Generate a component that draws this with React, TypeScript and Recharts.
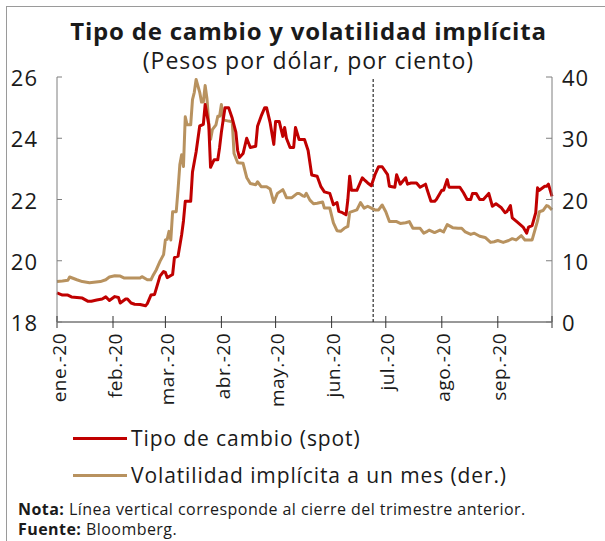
import { LineChart, Line, XAxis, YAxis, ReferenceLine } from "recharts";

// días desde el 1 de enero de 2020
const spotDays = [
  0, 3, 6, 8, 11, 14, 17, 19, 22, 25,
  27, 29, 32, 34, 35, 38, 39, 41, 43, 46,
  49, 50, 52, 54, 55, 57, 59, 60, 61, 64,
  65, 67, 69, 70, 71, 74, 75, 77, 79, 81,
  82, 84, 85, 87, 89, 90, 91, 93, 95, 97,
  99, 100, 101, 103, 105, 107, 110, 111, 113, 115,
  116, 118, 120, 121, 123, 125, 126, 127, 129, 131,
  132, 134, 137, 139, 141, 144, 146, 148, 151, 153,
  155, 156, 158, 160, 161, 162, 163, 166, 169, 170,
  172, 174, 176, 178, 180, 183, 184, 187, 188, 190,
  193, 194, 196, 199, 201, 204, 205, 207, 209, 210,
  213, 214, 216, 217, 220, 223, 225, 227, 229, 230,
  232, 234, 236, 239, 241, 243, 246, 248, 249, 251,
  252, 255, 258, 260, 261, 263, 265, 266, 267, 270,
  271, 272, 274,
];
const spotValues = [
  18.95, 18.88, 18.88, 18.82, 18.8, 18.78, 18.68, 18.68, 18.72, 18.75,
  18.82, 18.7, 18.83, 18.8, 18.62, 18.75, 18.75, 18.62, 18.58, 18.57,
  18.53, 18.6, 18.88, 18.9, 19.1, 19.5, 19.65, 19.62, 19.45, 19.55,
  20.1, 20.15, 20.85, 21.3, 21.94, 21.94, 22.9, 23.55, 24.4, 24.45,
  25.1, 24.45, 23.05, 23.3, 23.3, 23.7, 24.2, 25.0, 25.0, 24.65,
  24.2, 23.6, 23.37, 23.5, 24.0, 23.7, 23.74, 24.39, 24.72, 25.0,
  25.0, 24.5, 23.8, 24.55, 24.55, 24.06, 24.35, 24.0, 23.7, 23.7,
  24.35, 23.96, 23.96, 23.6, 22.8, 22.76, 22.43, 22.25, 22.2, 21.83,
  21.9, 21.61, 21.57, 21.5, 22.0, 22.76, 22.3, 22.3, 22.71, 22.65,
  22.54, 22.45, 22.81, 23.07, 23.07, 22.81, 22.43, 22.4, 22.81, 22.5,
  22.71, 22.5, 22.54, 22.54, 22.4, 22.5, 22.3, 21.94, 21.94, 22.0,
  22.3, 22.3, 22.65, 22.4, 22.4, 22.4, 22.22, 22.0, 22.0, 22.2,
  22.2, 22.0, 22.0, 22.2, 21.78, 21.86, 21.73, 21.57, 21.6, 21.8,
  21.4, 21.25, 21.1, 20.9, 21.1, 21.15, 21.57, 22.38, 22.3, 22.43,
  22.43, 22.5, 22.1,
];

const volDays = [
  0, 3, 6, 7, 11, 14, 18, 24, 27, 29,
  32, 35, 37, 40, 43, 46, 47, 50, 52, 53,
  55, 57, 59, 60, 61, 62, 63, 64, 66, 67,
  68, 69, 70, 71, 72, 74, 75, 76, 77, 79,
  80, 81, 82, 83, 84, 85, 86, 88, 89, 90,
  91, 92, 95, 97, 98, 100, 103, 105, 107, 110,
  111, 113, 116, 118, 120, 122, 125, 126, 127, 130,
  133, 134, 136, 137, 138, 140, 142, 144, 147, 148,
  151, 153, 155, 157, 159, 161, 162, 164, 166, 168,
  170, 172, 174, 176, 178, 180, 182, 184, 186, 188,
  190, 193, 195, 197, 201, 203, 205, 206, 209, 212,
  214, 216, 219, 222, 224, 226, 229, 231, 234, 237,
  240, 242, 244, 247, 250, 252, 254, 255, 257, 259,
  262, 263, 266, 267, 269, 271, 272, 274,
];
const volValues = [
  6.63, 6.7, 6.8, 7.35, 6.9, 6.6, 6.4, 6.6, 6.9, 7.35,
  7.56, 7.5, 7.2, 7.2, 7.2, 7.2, 7.4, 6.9, 6.9, 7.5,
  8.54, 9.9, 11.0, 13.4, 13.5, 14.8, 13.4, 18.0, 18.0, 21.6,
  25.7, 27.3, 25.4, 33.5, 32.2, 32.2, 36.3, 37.5, 39.6, 37.5,
  35.9, 35.9, 38.6, 36.5, 32.5, 29.8, 31.4, 32.2, 33.6, 33.6,
  35.5, 33.0, 32.8, 32.7, 27.5, 26.0, 25.9, 23.6, 22.6, 22.4,
  22.9, 22.1, 22.1, 21.7, 19.5, 21.0, 21.6, 21.0, 20.3, 20.3,
  21.0, 21.0, 20.6, 20.5, 21.0, 19.9, 19.3, 19.4, 19.6, 18.6,
  18.6, 16.2, 14.9, 14.8, 15.3, 15.6, 17.9, 18.1, 18.3, 19.5,
  18.6, 18.9, 18.6, 18.3, 18.3, 19.1, 18.0, 16.4, 16.4, 16.4,
  16.1, 16.2, 16.4, 15.3, 15.3, 14.5, 14.8, 15.0, 14.6, 15.0,
  14.7, 15.9, 15.4, 15.3, 15.3, 14.7, 14.3, 14.5, 14.0, 13.8,
  13.0, 13.1, 13.3, 13.0, 13.3, 13.6, 13.4, 13.6, 14.1, 13.4,
  13.4, 13.4, 16.5, 18.0, 18.2, 19.0, 18.9, 18.3,
];

const monthTicks = [0, 31, 60, 91, 121, 152, 182, 213, 244, 274];
const monthLabels = ["ene.-20", "feb.-20", "mar.-20", "abr.-20", "may.-20", "jun.-20", "jul.-20", "ago.-20", "sep.-20", ""];
const leftTicks = [18, 20, 22, 24, 26];
const rightTicks = [0, 10, 20, 30, 40];
const quarterClose = 175;

const allDays = Array.from(new Set([...spotDays, ...volDays])).sort((a, b) => a - b);
const data = allDays.map((d) => {
  const si = spotDays.indexOf(d);
  const vi = volDays.indexOf(d);
  return { d, spot: si >= 0 ? spotValues[si] : null, vol: vi >= 0 ? volValues[vi] : null };
});

const SPOT = "#C00000";
const VOL = "#B8925F";
const FONT = '"Open Sans", sans-serif';

const LeftTick = (p: any) => (
  <g>
    <line x1={p.x} x2={p.x + 5} y1={p.y} y2={p.y} stroke="#7f7f7f" />
    <text x={p.x - 19} y={p.y} textAnchor="end" dominantBaseline="central" fontSize={22} letterSpacing={1} fill="#1a1a1a" fontFamily={FONT}>
      {p.payload.value}
    </text>
  </g>
);

const RightTick = (p: any) => (
  <g>
    <line x1={p.x - 6} x2={p.x} y1={p.y} y2={p.y} stroke="#7f7f7f" />
    <text x={p.x + 10} y={p.y} textAnchor="start" dominantBaseline="central" fontSize={22} letterSpacing={1} fill="#1a1a1a" fontFamily={FONT}>
      {p.payload.value}
    </text>
  </g>
);

const MonthTick = (p: any) => {
  const i = monthTicks.indexOf(p.payload.value);
  return (
    <g>
      <line x1={p.x} x2={p.x} y1={p.y - 6} y2={p.y + 6} stroke="#333" />
      <text
        transform={`translate(${p.x + 2},${p.y + 11}) rotate(-90)`}
        textAnchor="end"
        dy="0.35em"
        fontSize={19}
        letterSpacing={0.5}
        fill="#1a1a1a"
        fontFamily={FONT}
      >
        {monthLabels[i] ?? ""}
      </text>
    </g>
  );
};

export default function App() {
  return (
    <div style={{ position: "absolute", left: 0, top: 0, width: 605, height: 541, background: "#fff", overflow: "hidden", fontFamily: FONT, color: "#1a1a1a" }}>
      <div style={{ position: "absolute", left: 6, top: 6, width: 1, height: 535, background: "#9a9a9a" }} />
      <div style={{ position: "absolute", left: 6, top: 6, width: 599, height: 1, background: "#9a9a9a" }} />

      <div style={{ position: "absolute", left: 6, top: 15, width: 605, textAlign: "center", fontSize: 24, fontWeight: 700, letterSpacing: 0.8, lineHeight: "32px" }}>
        Tipo de cambio y volatilidad implícita
      </div>
      <div style={{ position: "absolute", left: 6, top: 45, width: 605, textAlign: "center", fontSize: 23, letterSpacing: 1, lineHeight: "30px" }}>
        (Pesos por dólar, por ciento)
      </div>

      <div style={{ position: "absolute", left: 0, top: 0 }}>
        <LineChart width={605} height={410} data={data} margin={{ top: 77, right: 0, bottom: 0, left: 0 }}>
          <XAxis
            dataKey="d"
            type="number"
            domain={[0, 274]}
            ticks={monthTicks}
            interval={0}
            height={88}
            tickSize={0}
            tickMargin={0}
            tickLine={false}
            axisLine={{ stroke: "#333" }}
            tick={MonthTick}
          />
          <YAxis
            yAxisId="left"
            orientation="left"
            domain={[18, 26]}
            ticks={leftTicks}
            interval={0}
            width={57}
            tickSize={0}
            tickMargin={0}
            tickLine={false}
            axisLine={{ stroke: "#7f7f7f" }}
            tick={LeftTick}
          />
          <YAxis
            yAxisId="right"
            orientation="right"
            domain={[0, 40]}
            ticks={rightTicks}
            interval={0}
            width={53}
            tickSize={0}
            tickMargin={0}
            tickLine={false}
            axisLine={{ stroke: "#7f7f7f" }}
            tick={RightTick}
          />
          <ReferenceLine yAxisId="left" x={quarterClose} stroke="#000" strokeDasharray="3 2" strokeWidth={1} />
          <Line yAxisId="right" dataKey="vol" stroke={VOL} strokeWidth={3} dot={false} connectNulls isAnimationActive={false} strokeLinejoin="round" />
          <Line yAxisId="left" dataKey="spot" stroke={SPOT} strokeWidth={3} dot={false} connectNulls isAnimationActive={false} strokeLinejoin="round" />
        </LineChart>
      </div>

      <div style={{ position: "absolute", left: 73, top: 437, width: 54, height: 3, background: SPOT }} />
      <div style={{ position: "absolute", left: 131, top: 424, fontSize: 21, letterSpacing: 0.9, lineHeight: "28px", whiteSpace: "nowrap" }}>
        Tipo de cambio (spot)
      </div>
      <div style={{ position: "absolute", left: 73, top: 474, width: 54, height: 3, background: VOL }} />
      <div style={{ position: "absolute", left: 131, top: 461, fontSize: 21, letterSpacing: 0.9, lineHeight: "28px", whiteSpace: "nowrap" }}>
        Volatilidad implícita a un mes (der.)
      </div>

      <div style={{ position: "absolute", left: 18, top: 499, fontSize: 16, letterSpacing: 0.45, lineHeight: "20px", whiteSpace: "nowrap" }}>
        <b>Nota:</b> Línea vertical corresponde al cierre del trimestre anterior.
      </div>
      <div style={{ position: "absolute", left: 18, top: 519, fontSize: 16, letterSpacing: 0.45, lineHeight: "20px", whiteSpace: "nowrap" }}>
        <b>Fuente:</b> Bloomberg.
      </div>
    </div>
  );
}
